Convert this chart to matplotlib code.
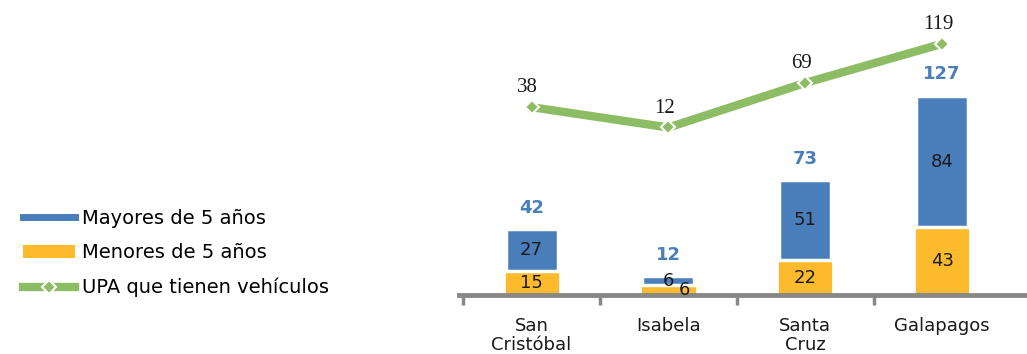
import matplotlib.pyplot as plt
from matplotlib.lines import Line2D
from matplotlib.patches import Patch
import numpy as np

categories = ['San\nCristóbal', 'Isabela', 'Santa\nCruz', 'Galapagos']
menores = [15, 6, 22, 43]     # menores de 5 años
mayores = [27, 6, 51, 84]     # mayores de 5 años
totales = [42, 12, 73, 127]
upa_vehiculos = [38, 12, 69, 119]

blue = '#4A7EBB'
yellow = '#FDBA2C'
green = '#8CBD64'

fig = plt.figure(figsize=(10.27, 3.54), dpi=100)
ax = fig.add_axes([0.447, 0.167, 0.553, 0.833])
x = np.arange(len(categories))

ax.bar(x, menores, 0.41, color=yellow, edgecolor='white', linewidth=2)
ax.bar(x, mayores, 0.38, bottom=menores, color=blue, edgecolor='white', linewidth=2.5)

for i in range(len(x)):
    # Isabela's segments are tiny, so nudge the lower label aside like the original
    dx = 0.12 if menores[i] < 10 else 0
    ax.text(x[i] + dx, menores[i] / 2, str(menores[i]), ha='center', va='center', fontsize=13, color='#1a1a1a')
    ax.text(x[i], menores[i] + mayores[i] / 2, str(mayores[i]), ha='center', va='center', fontsize=13, color='#1a1a1a')
    ax.annotate(str(totales[i]), (x[i], totales[i]), xytext=(0, 9), textcoords='offset points',
                ha='center', va='bottom', fontsize=13, fontweight='bold', color=blue)

ax.set_xlim(-0.53, 3.62)
ax.set_ylim(0, 188)
ax.set_yticks([])
for s in ['top', 'right', 'left']:
    ax.spines[s].set_visible(False)
ax.spines['bottom'].set_color('#888888')
ax.spines['bottom'].set_linewidth(3.5)
ax.set_xticks(np.arange(-0.5, 3.5, 1))
ax.set_xticklabels([])
ax.tick_params(axis='x', length=7, width=2.5, color='#888888')
for i, c in enumerate(categories):
    ax.text(x[i], -14, c, ha='center', va='top', fontsize=13, color='#1a1a1a', linespacing=1.05)

ax2 = ax.twinx()
ax2.plot(x, upa_vehiculos, color=green, linewidth=6, marker='D', markersize=7,
         markerfacecolor=green, markeredgecolor='white', markeredgewidth=1.5)
for i in range(len(x)):
    ax2.annotate(str(upa_vehiculos[i]), (x[i], upa_vehiculos[i]), xytext=(-3, 7), textcoords='offset points',
                 ha='center', va='bottom', fontsize=15, color='#1a1a1a', family='Liberation Serif')
ax2.set_ylim(-202, 175)
ax2.set_yticks([])
for s in ['top', 'right', 'left', 'bottom']:
    ax2.spines[s].set_visible(False)

handles = [
    Line2D([0], [0], color=blue, linewidth=5),
    Patch(facecolor=yellow),
    Line2D([0], [0], color=green, linewidth=6, marker='D', markersize=7,
           markerfacecolor=green, markeredgecolor='white', markeredgewidth=1.5),
]
labels = ['Mayores de 5 años', 'Menores de 5 años', 'UPA que tienen vehículos']
fig.legend(handles, labels, loc='center left', bbox_to_anchor=(0.005, 0.285), frameon=False,
           fontsize=14, handlelength=2.7, labelspacing=0.8, handletextpad=0.35)

fig.savefig('out.png', dpi=100)
